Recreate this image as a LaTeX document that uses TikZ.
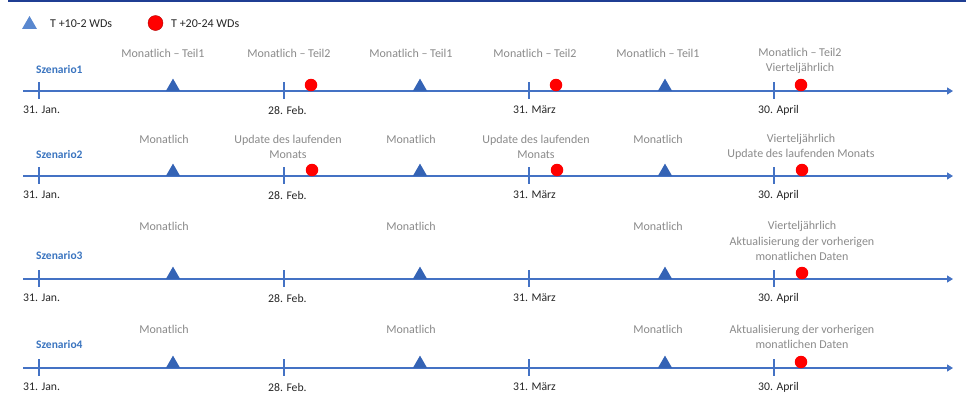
\documentclass[tikz,border=0pt]{standalone}
\usepackage{fontspec}
\setmainfont{Carlito}
\usetikzlibrary{shapes.geometric,arrows.meta}
\definecolor{axisblue}{HTML}{4472C4}
\definecolor{triblue}{HTML}{3463B5}
\definecolor{legblue}{HTML}{5A88CF}
\definecolor{greytxt}{HTML}{8A8A8A}
\definecolor{szenblue}{HTML}{3A74BF}
\definecolor{datetxt}{HTML}{262626}
\definecolor{topline}{HTML}{1F3E93}
\tikzset{
  axisline/.style={draw=axisblue, line width=1.3pt, -{Triangle[length=6pt,width=7pt]}},
  tickmark/.style={draw=axisblue, line width=1.3pt},
  trimark/.style={regular polygon, regular polygon sides=3, fill=triblue, inner sep=0pt, minimum size=16.2pt},
  dotmark/.style={circle, fill=red, inner sep=0pt, minimum size=12.5pt},
  lbl/.style={text=greytxt, font=\fontsize{12}{15.5}\selectfont, align=center, inner sep=0pt},
  datelbl/.style={text=datetxt, font=\fontsize{11.7}{14}\selectfont, anchor=west, inner sep=0pt},
  szenlbl/.style={text=szenblue, font=\bfseries\fontsize{11.5}{14}\selectfont, anchor=west, inner sep=0pt},
  legtxt/.style={text=datetxt, font=\fontsize{12}{14}\selectfont, anchor=west, inner sep=0pt},
}
\begin{document}
\begin{tikzpicture}[x=1pt, y=-1pt]
\useasboundingbox (0,0) rectangle (966,413);
% top rule
\coordinate (tl) at (8,0.8);
\coordinate (tr) at (966,0.8);
\draw[topline, line width=1.8pt] (tl) -- (tr);

% legend
\node[regular polygon, regular polygon sides=3, fill=legblue, inner sep=0pt, minimum size=17pt] (legtri) at (29.5,24.5) {};
\node[legtxt] (legtritxt) at (50,24) {T +10-2 WDs};
\node[circle, fill=red, draw=red!70!black, line width=0.4pt, inner sep=0pt, minimum size=15pt] (legdot) at (155.5,23) {};
\node[legtxt] (legdottxt) at (171,24) {T +20-24 WDs};

% axes
\foreach \r/\y in {1/91, 2/176, 3/279, 4/368} {
  \coordinate (s\r) at (23,\y);
  \coordinate (e\r) at (953,\y);
  \draw[axisline] (s\r) -- (e\r);
  \foreach \i/\x/\d in {1/39/{31. Jan.}, 2/284/{28. Feb.}, 3/529/{31. März}, 4/774/{30. April}} {
    \coordinate (ta\r\i) at (\x,\y-9);
    \coordinate (tb\r\i) at (\x,\y+8);
    \draw[tickmark] (ta\r\i) -- (tb\r\i);
    \node[datelbl] (d\r\i) at (\x-16,\y+19) {\d};
  }
  \foreach \j/\x in {1/173, 2/420, 3/665} {
    \node[trimark] (tri\r\j) at (\x,\y-4.3) {};
  }
}

% scenario labels
\node[szenlbl] (sz1) at (36,70) {Szenario1};
\node[szenlbl] (sz2) at (36,155) {Szenario2};
\node[szenlbl] (sz3) at (36,256) {Szenario3};
\node[szenlbl] (sz4) at (36,344) {Szenario4};

% red markers
\node[dotmark] (dot11) at (311,85) {};
\node[dotmark] (dot12) at (556,85) {};
\node[dotmark] (dot13) at (801,85) {};
\node[dotmark] (dot21) at (312,170) {};
\node[dotmark] (dot22) at (557,170) {};
\node[dotmark] (dot23) at (802,170) {};
\node[dotmark] (dot33) at (802,273) {};
\node[dotmark] (dot43) at (801,362) {};

% row 1 labels
\node[lbl] (l11) at (163,53) {Monatlich – Teil1};
\node[lbl] (l12) at (289,53) {Monatlich – Teil2};
\node[lbl] (l13) at (411,53) {Monatlich – Teil1};
\node[lbl] (l14) at (535,53) {Monatlich – Teil2};
\node[lbl] (l15) at (658,53) {Monatlich – Teil1};
\node[lbl] (l16) at (800,61) {Monatlich – Teil2\\Vierteljährlich};

% row 2 labels
\node[lbl] (l21) at (164,139.5) {Monatlich};
\node[lbl] (l22) at (288,147) {Update des laufenden\\Monats};
\node[lbl] (l23) at (411,139.5) {Monatlich};
\node[lbl] (l24) at (536,147) {Update des laufenden\\Monats};
\node[lbl] (l25) at (658,139.5) {Monatlich};
\node[lbl] (l26) at (801,147) {Vierteljährlich\\Update des laufenden Monats};

% row 3 labels
\node[lbl] (l31) at (164,226) {Monatlich};
\node[lbl] (l32) at (411,226) {Monatlich};
\node[lbl] (l33) at (658,226) {Monatlich};
\node[lbl] (l34) at (802,241) {Vierteljährlich\\Aktualisierung der vorherigen\\monatlichen Daten};

% row 4 labels
\node[lbl] (l41) at (164,329.5) {Monatlich};
\node[lbl] (l42) at (411,329.5) {Monatlich};
\node[lbl] (l43) at (658,329.5) {Monatlich};
\node[lbl] (l44) at (802,337) {Aktualisierung der vorherigen\\monatlichen Daten};
\end{tikzpicture}
\end{document}
